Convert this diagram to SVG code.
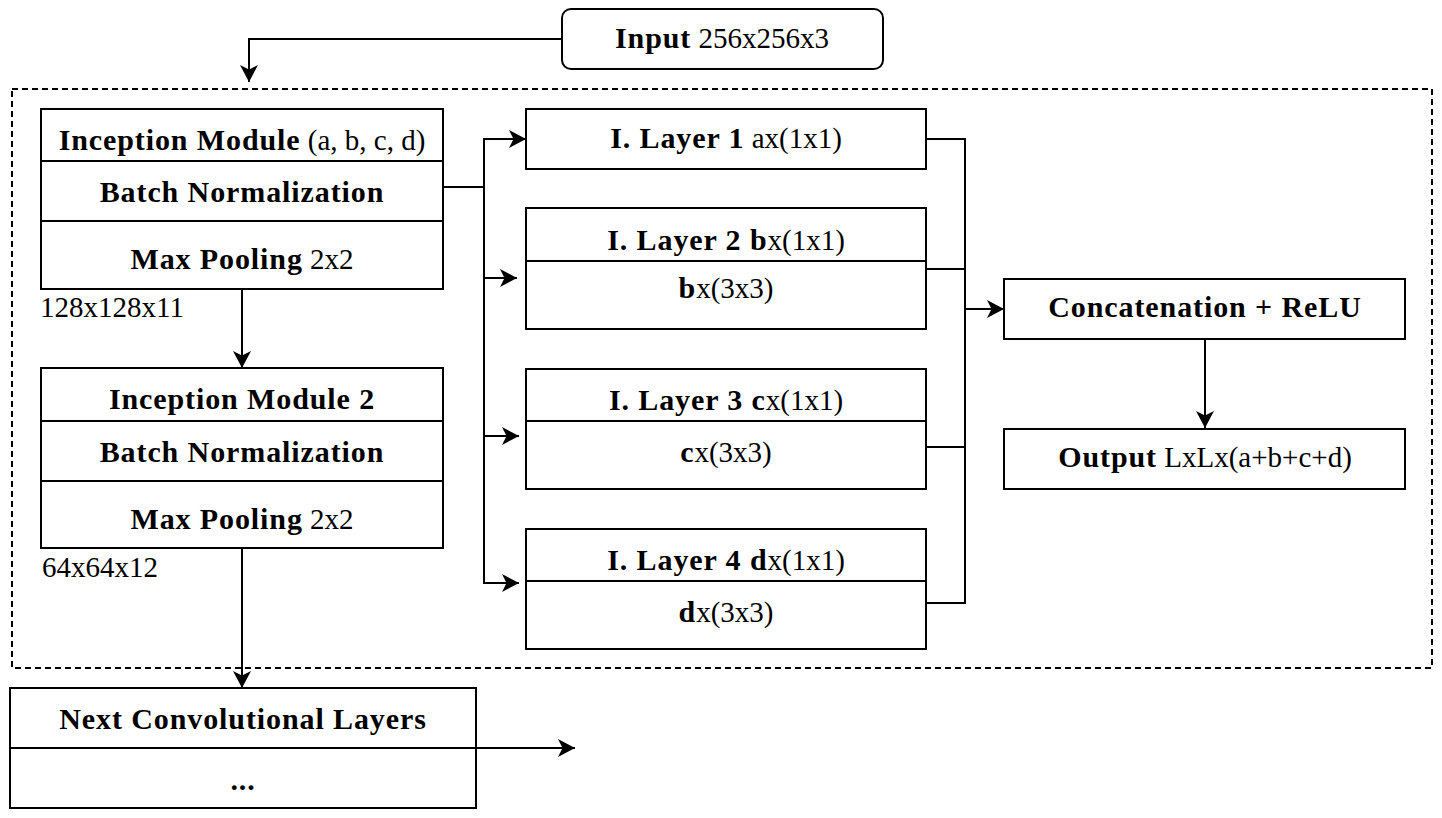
<svg xmlns="http://www.w3.org/2000/svg" width="1442" height="818" viewBox="0 0 1442 818">
<style>
.box{fill:#fff;stroke:#000;stroke-width:2}
.div{stroke:#000;stroke-width:2}
.con{fill:none;stroke:#000;stroke-width:2}
.t{font-family:"Liberation Serif","Times New Roman",serif;font-size:29px;fill:#000;text-anchor:middle}
.l{font-family:"Liberation Serif","Times New Roman",serif;font-size:29px;fill:#000}
.b{font-weight:bold;font-size:30px;letter-spacing:0.9px}
.dash{fill:none;stroke:#000;stroke-width:2;stroke-dasharray:6 4}
</style>
<defs>
<marker id="arr" markerUnits="userSpaceOnUse" markerWidth="20" markerHeight="20" viewBox="0 0 20 20" refX="18" refY="10" orient="auto">
<path d="M1,1 L18,10 L1,19 L5.5,10 Z" fill="#000"/>
</marker>
</defs>
<rect class="dash" x="12" y="89" width="1420" height="579"/>
<g id="connectors">
<path class="con" d="M562,39 H249 V82" marker-end="url(#arr)"/>
<path class="con" d="M242,289 V368" marker-end="url(#arr)"/>
<path class="con" d="M242,548 V688" marker-end="url(#arr)"/>
<path class="con" d="M476,748 H575" marker-end="url(#arr)"/>
<path class="con" d="M443,187 H484 V139 H526" marker-end="url(#arr)"/>
<path class="con" d="M443,187 H484 V278 H517" marker-end="url(#arr)"/>
<path class="con" d="M443,187 H484 V436 H519" marker-end="url(#arr)"/>
<path class="con" d="M443,187 H484 V583 H519" marker-end="url(#arr)"/>
<path class="con" d="M926,139 H965 V309 H1004" marker-end="url(#arr)"/>
<path class="con" d="M926,269 H965 V309 H1004"/>
<path class="con" d="M926,447 H965 V309 H1004"/>
<path class="con" d="M926,603 H965 V309 H1004"/>
<path class="con" d="M1205,339 V428" marker-end="url(#arr)"/>
</g>
<g id="input">
<rect class="box" x="562" y="9" width="321" height="60" rx="9"/>
<text class="t" x="722" y="48"><tspan class="b">Input</tspan> 256x256x3</text>
</g>
<g id="module1">
<rect class="box" x="41" y="109" width="402" height="180"/>
<line class="div" x1="41" y1="161" x2="443" y2="161"/>
<line class="div" x1="41" y1="221" x2="443" y2="221"/>
<text class="t" x="242" y="150"><tspan class="b">Inception Module</tspan> (a, b, c, d)</text>
<text class="t b" x="242" y="202">Batch Normalization</text>
<text class="t" x="242" y="269"><tspan class="b">Max Pooling</tspan> 2x2</text>
</g>
<text id="dim1" class="l" x="40" y="317">128x128x11</text>
<g id="module2">
<rect class="box" x="41" y="368" width="402" height="180"/>
<line class="div" x1="41" y1="421" x2="443" y2="421"/>
<line class="div" x1="41" y1="481" x2="443" y2="481"/>
<text class="t b" x="242" y="409">Inception Module 2</text>
<text class="t b" x="242" y="462">Batch Normalization</text>
<text class="t" x="242" y="529"><tspan class="b">Max Pooling</tspan> 2x2</text>
</g>
<text id="dim2" class="l" x="42" y="577">64x64x12</text>
<g id="next">
<rect class="box" x="10" y="688" width="466" height="120"/>
<line class="div" x1="10" y1="748" x2="476" y2="748"/>
<text class="t b" x="243" y="729">Next Convolutional Layers</text>
<text class="t b" x="243" y="790">...</text>
</g>
<g id="layer1">
<rect class="box" x="526" y="109" width="400" height="60"/>
<text class="t" x="726" y="148"><tspan class="b">I. Layer 1</tspan> ax(1x1)</text>
</g>
<g id="layer2">
<rect class="box" x="526" y="208" width="400" height="121"/>
<line class="div" x1="526" y1="261" x2="926" y2="261"/>
<text class="t" x="726" y="250"><tspan class="b">I. Layer 2 b</tspan>x(1x1)</text>
<text class="t" x="726" y="298"><tspan class="b">b</tspan>x(3x3)</text>
</g>
<g id="layer3">
<rect class="box" x="526" y="369" width="400" height="120"/>
<line class="div" x1="526" y1="421" x2="926" y2="421"/>
<text class="t" x="726" y="410"><tspan class="b">I. Layer 3 c</tspan>x(1x1)</text>
<text class="t" x="726" y="462"><tspan class="b">c</tspan>x(3x3)</text>
</g>
<g id="layer4">
<rect class="box" x="526" y="529" width="400" height="120"/>
<line class="div" x1="526" y1="581" x2="926" y2="581"/>
<text class="t" x="726" y="570"><tspan class="b">I. Layer 4 d</tspan>x(1x1)</text>
<text class="t" x="726" y="622"><tspan class="b">d</tspan>x(3x3)</text>
</g>
<g id="concat">
<rect class="box" x="1004" y="279" width="401" height="60"/>
<text class="t b" x="1205" y="317">Concatenation + ReLU</text>
</g>
<g id="output">
<rect class="box" x="1004" y="429" width="401" height="60"/>
<text class="t" x="1205" y="467"><tspan class="b">Output</tspan> LxLx(a+b+c+d)</text>
</g>
</svg>
